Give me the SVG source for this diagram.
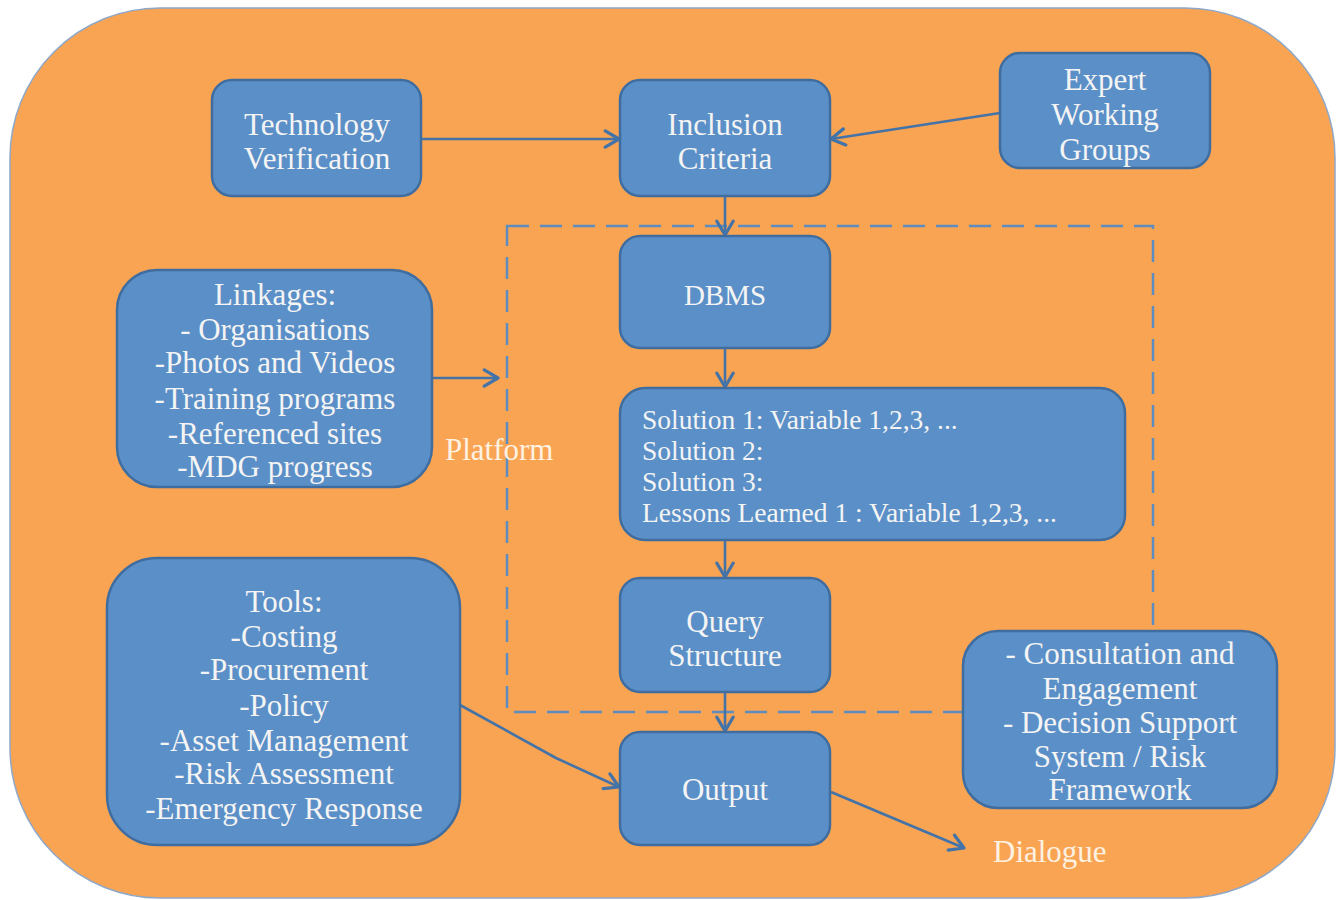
<svg xmlns="http://www.w3.org/2000/svg" width="1341" height="900" viewBox="0 0 1341 900">
<defs>
<marker id="arr" markerUnits="userSpaceOnUse" markerWidth="20" markerHeight="20" viewBox="-14 -8 16 16" refX="0" refY="0" orient="auto">
<path d="M-11,-6.5 L0,0 L-11,6.5" fill="none" stroke="#4473A8" stroke-width="2.6" stroke-linecap="round" stroke-linejoin="round"/>
</marker>
<style>
.bg{fill:#F9A453;stroke:#8FA8C8;stroke-width:1.5}
.box{fill:#5B8FC7;stroke:#3F6DA0;stroke-width:2.5}
.t{font-family:"Liberation Serif","Times New Roman",serif;font-size:31px;fill:#F4F4F4;text-anchor:middle}
.s{font-family:"Liberation Serif","Times New Roman",serif;font-size:27.5px;fill:#F4F4F4}
.lbl{font-family:"Liberation Serif","Times New Roman",serif;font-size:31px;fill:#FDF2E2}
.c{fill:none;stroke:#4473A8;stroke-width:2.6}
.dash{fill:none;stroke:#5D8CC0;stroke-width:2.5;stroke-dasharray:22 11}
</style>
</defs>
<rect class="bg" x="10" y="8" width="1325" height="890" rx="150" ry="150"/>
<rect class="dash" x="507" y="226" width="646" height="486"/>
<g id="connectors">
<line class="c" x1="421" y1="139" x2="619" y2="139" marker-end="url(#arr)"/>
<line class="c" x1="1000" y1="113" x2="831" y2="139" marker-end="url(#arr)"/>
<line class="c" x1="725" y1="196" x2="725" y2="235" marker-end="url(#arr)"/>
<line class="c" x1="725" y1="348" x2="725" y2="387" marker-end="url(#arr)"/>
<line class="c" x1="725" y1="540" x2="725" y2="577" marker-end="url(#arr)"/>
<line class="c" x1="725" y1="692" x2="725" y2="731" marker-end="url(#arr)"/>
<line class="c" x1="432" y1="378" x2="498" y2="378" marker-end="url(#arr)"/>
<polyline class="c" points="460,705 556,758 619,787" marker-end="url(#arr)"/>
<line class="c" x1="831" y1="792" x2="964" y2="848" marker-end="url(#arr)"/>
</g>
<g id="tech">
<rect class="box" x="212" y="80" width="209" height="116" rx="20"/>
<text class="t" x="317" y="135">Technology</text>
<text class="t" x="317" y="169">Verification</text>
</g>
<g id="inclusion">
<rect class="box" x="620" y="80" width="210" height="116" rx="20"/>
<text class="t" x="725" y="135">Inclusion</text>
<text class="t" x="725" y="169">Criteria</text>
</g>
<g id="expert">
<rect class="box" x="1000" y="53" width="210" height="115" rx="20"/>
<text class="t" x="1105" y="90">Expert</text>
<text class="t" x="1105" y="125">Working</text>
<text class="t" x="1105" y="160">Groups</text>
</g>
<g id="dbms">
<rect class="box" x="620" y="236" width="210" height="112" rx="20"/>
<text class="t" x="725" y="305" style="font-size:29px">DBMS</text>
</g>
<g id="solutions">
<rect class="box" x="620" y="388" width="505" height="152" rx="25"/>
<text class="s" x="642" y="429">Solution 1: Variable 1,2,3, ...</text>
<text class="s" x="642" y="460">Solution 2:</text>
<text class="s" x="642" y="491">Solution 3:</text>
<text class="s" x="642" y="522">Lessons Learned 1 : Variable 1,2,3, ...</text>
</g>
<g id="query">
<rect class="box" x="620" y="578" width="210" height="114" rx="20"/>
<text class="t" x="725" y="632">Query</text>
<text class="t" x="725" y="666">Structure</text>
</g>
<g id="output">
<rect class="box" x="620" y="732" width="210" height="113" rx="20"/>
<text class="t" x="725" y="800">Output</text>
</g>
<g id="linkages">
<rect class="box" x="117" y="270" width="315" height="217" rx="40"/>
<text class="t" x="275" y="305">Linkages:</text>
<text class="t" x="275" y="340">- Organisations</text>
<text class="t" x="275" y="373">-Photos and Videos</text>
<text class="t" x="275" y="409">-Training programs</text>
<text class="t" x="275" y="444">-Referenced sites</text>
<text class="t" x="275" y="477">-MDG progress</text>
</g>
<g id="tools">
<rect class="box" x="107" y="558" width="353" height="287" rx="50"/>
<text class="t" x="284" y="612">Tools:</text>
<text class="t" x="284" y="647">-Costing</text>
<text class="t" x="284" y="680">-Procurement</text>
<text class="t" x="284" y="716">-Policy</text>
<text class="t" x="284" y="751">-Asset Management</text>
<text class="t" x="284" y="784">-Risk Assessment</text>
<text class="t" x="284" y="819">-Emergency Response</text>
</g>
<g id="consultation">
<rect class="box" x="963" y="631" width="314" height="177" rx="35"/>
<text class="t" x="1120" y="664">- Consultation and</text>
<text class="t" x="1120" y="699">Engagement</text>
<text class="t" x="1120" y="733">- Decision Support</text>
<text class="t" x="1120" y="767">System / Risk</text>
<text class="t" x="1120" y="800">Framework</text>
</g>
<g id="labels">
<text class="lbl" x="445" y="460">Platform</text>
<text class="lbl" x="993" y="862">Dialogue</text>
</g>
</svg>
